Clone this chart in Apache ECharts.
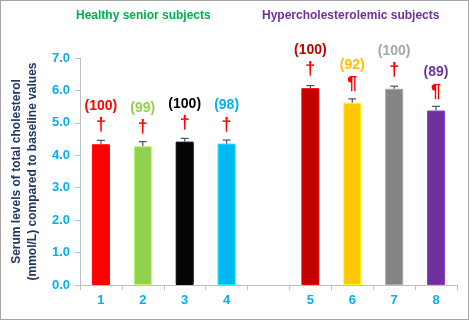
<!DOCTYPE html>
<html>
<head>
<meta charset="utf-8">
<script src="https://cdn.jsdelivr.net/npm/echarts@6/dist/echarts.min.js"></script>
<style>
  html, body { margin: 0; padding: 0; background: #fff; }
  #chart { width: 469px; height: 320px; box-sizing: border-box; border: 1px solid #a6a6a6; }
</style>
</head>
<body>
<div id="chart"></div>
<script>
// groups 1-4 healthy seniors, 5-8 hypercholesterolemic; empty slot separates them
const categories = ["1", "2", "3", "4", "", "5", "6", "7", "8"];
const means = [4.34, 4.28, 4.42, 4.36, null, 6.07, 5.62, 6.05, 5.38];
const errors = [0.12, 0.14, 0.1, 0.11, null, 0.08, 0.12, 0.08, 0.13];
const counts = ["(100)", "(99)", "(100)", "(98)", "", "(100)", "(92)", "(100)", "(89)"];
const marks = ["†", "†", "†", "†", "", "†", "¶", "†", "¶"];
const barColors = ["#ff0000", "#92d050", "#050505", "#00b8f0", null, "#c00000", "#ffc800", "#858585", "#7030a0"];
const countColors = ["#ff0000", "#92d050", "#000000", "#00b0f0", null, "#c00000", "#ffc000", "#a6a6a6", "#7030a0"];
const yTicks = [0, 1, 2, 3, 4, 5, 6, 7];

const font = "Liberation Sans, Arial, sans-serif";

const chart = echarts.init(document.getElementById("chart"));

const barData = means.map((v, i) =>
  v == null ? "-" : {
    value: v,
    itemStyle: {
      color: barColors[i],
      borderColor: echarts.color.lift(barColors[i], -0.25),
      borderWidth: 1
    }
  });

const errData = means.map((v, i) => (v == null ? [i, "-", "-"] : [i, v, errors[i]]));

chart.setOption({
  animation: false,
  graphic: [
    { type: "text", left: 75, top: 9, style: { text: "Healthy senior subjects", fill: "#00b050", font: "bold 12px " + font } },
    { type: "text", left: 261, top: 9, style: { text: "Hypercholesterolemic subjects", fill: "#7030a0", font: "bold 12px " + font } }
  ],
  grid: { left: 73, right: 11, top: 57, bottom: 34 },
  xAxis: {
    type: "category",
    data: categories,
    axisLine: { lineStyle: { color: "#bfbfbf" } },
    axisTick: { show: true, length: 5, lineStyle: { color: "#bfbfbf" } },
    axisLabel: { color: "#00b0f0", fontWeight: "bold", fontSize: 13, fontFamily: font, margin: 9 }
  },
  yAxis: {
    type: "value",
    min: yTicks[0],
    max: yTicks[yTicks.length - 1],
    interval: 1,
    name: "Serum levels of total cholesterol\n(mmol/L) compared to baseline values",
    nameLocation: "middle",
    nameGap: 38,
    nameTextStyle: { color: "#1f3864", fontWeight: "bold", fontSize: 12, fontFamily: font, lineHeight: 16 },
    axisLine: { show: true, lineStyle: { color: "#bfbfbf" } },
    axisTick: { show: true, length: 5, lineStyle: { color: "#bfbfbf" } },
    splitLine: { show: false },
    axisLabel: {
      color: "#00b0f0", fontWeight: "bold", fontSize: 13, fontFamily: font, margin: 10,
      formatter: v => v.toFixed(1)
    }
  },
  series: [
    {
      type: "bar",
      data: barData,
      barWidth: 18
    },
    {
      type: "custom",
      data: errData,
      encode: { x: 0, y: 1 },
      z: 5,
      renderItem: function (params, api) {
        const i = api.value(0);
        const v = api.value(1);
        if (isNaN(v)) return null;
        const e = api.value(2);
        const base = api.coord([i, v]);
        const top = api.coord([i, v + e]);
        const x = base[0];
        const stroke = { stroke: "#44546a", lineWidth: 1.2 };
        return {
          type: "group",
          children: [
            { type: "line", shape: { x1: x, y1: base[1], x2: x, y2: top[1] }, style: stroke },
            { type: "line", shape: { x1: x - 4, y1: top[1], x2: x + 4, y2: top[1] }, style: stroke },
            {
              type: "text",
              style: {
                x: x, y: base[1] - 19, text: marks[i], fill: "#ff0000",
                font: "bold 18px " + font, align: "center", verticalAlign: "middle"
              }
            },
            {
              type: "text",
              style: {
                x: x, y: base[1] - 38, text: counts[i], fill: countColors[i],
                font: "bold 14px " + font, align: "center", verticalAlign: "middle"
              }
            }
          ]
        };
      }
    }
  ]
});
</script>
</body>
</html>
